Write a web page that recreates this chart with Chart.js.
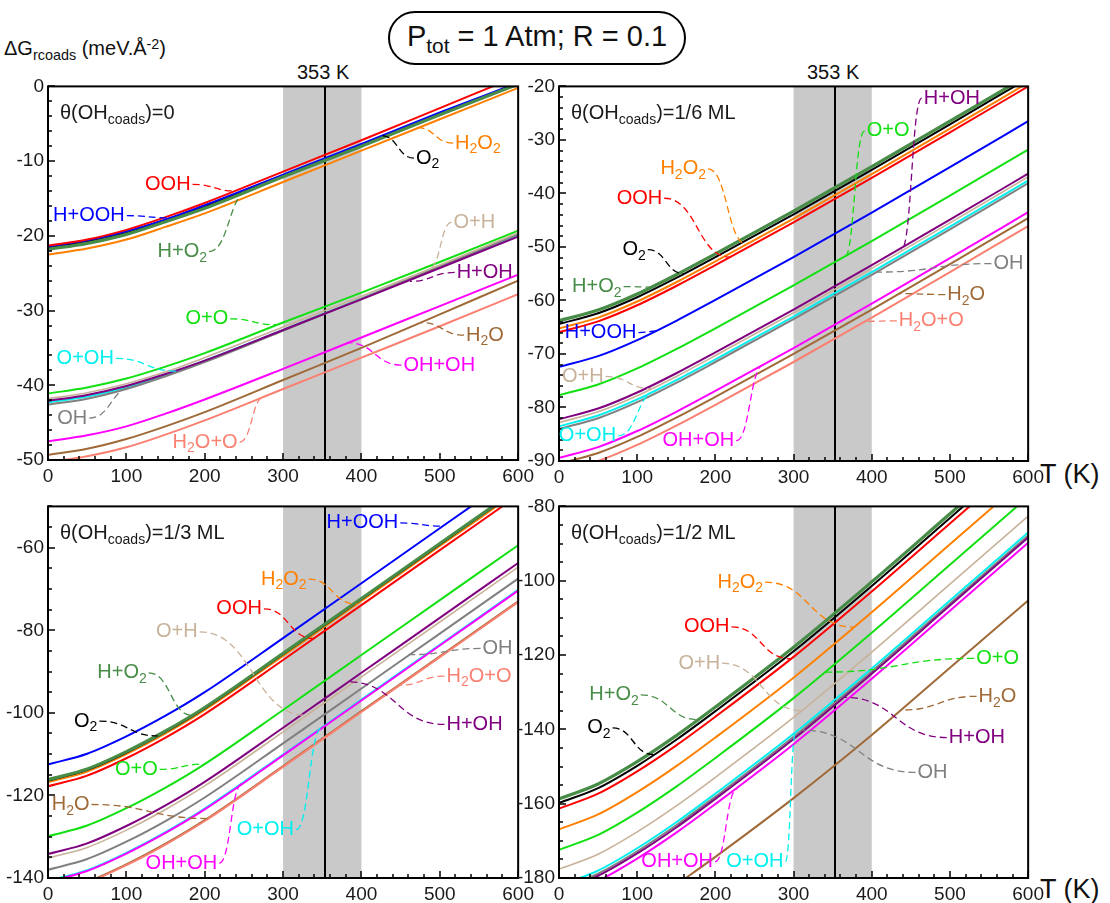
<!DOCTYPE html>
<html>
<head>
<meta charset="utf-8">
<script src="https://cdn.jsdelivr.net/npm/chart.js@4.4.0/dist/chart.umd.min.js"></script>
<style>
  body { margin: 0; background: #fff; width: 1110px; height: 903px; position: relative; overflow: hidden;
         font-family: "Liberation Sans", Arial, sans-serif; color: #111; }
  canvas { position: absolute; }
  .txt { position: absolute; white-space: nowrap; line-height: 1; }
  .sub { font-size: 0.72em; position: relative; top: 0.35em; }
  .sup { font-size: 0.72em; position: relative; top: -0.45em; }
  #title { left: 388px; top: 11px; width: 294px; height: 50px; border: 2px solid #000; border-radius: 27px;
           font-size: 29px; text-align: center; line-height: 46px; }
</style>
</head>
<body>
<div class="txt" id="title">P<span class="sub">tot</span> = 1 Atm; R = 0.1</div>
<div class="txt" style="left:4px; top:38px; font-size:20px;">&Delta;G<span class="sub">rcoads</span> (meV.&Aring;<span class="sup">-2</span>)</div>
<div class="txt" style="left:297px; top:62px; font-size:20px;">353 K</div>
<div class="txt" style="left:807px; top:62px; font-size:20px;">353 K</div>
<div class="txt" style="left:1040px; top:461px; font-size:27px;">T (K)</div>
<div class="txt" style="left:1040px; top:876px; font-size:27px;">T (K)</div>

<script>
const FONT = '"Liberation Sans", Arial, sans-serif';

const temps = [0, 50, 100, 150, 200, 300, 400, 500, 600];

const species = ['OOH', 'H+OOH', 'O2', 'H+O2', 'H2O2', 'O+O', 'H+OH', 'O+H', 'O+OH', 'OH', 'OH+OH', 'H2O', 'H2O+O'];

// ΔG_rcoads (meV/Å²) vs T, one row per species in the order above
const gTheta0 = [
  [-21.3, -20.5, -19.2, -17.5, -15.6, -11.4, -7.2, -2.9, 1.4],
  [-21.4, -20.6, -19.4, -17.8, -15.9, -11.8, -7.7, -3.5, 0.5],
  [-21.6, -20.8, -19.6, -18.0, -16.1, -12.0, -7.8, -3.6, 0.4],
  [-21.8, -21.0, -19.8, -18.1, -16.3, -12.1, -8.0, -3.8, 0.3],
  [-22.5, -21.7, -20.5, -18.8, -17.0, -12.8, -8.6, -4.4, -0.2],
  [-41.1, -40.3, -39.1, -37.5, -35.7, -31.6, -27.6, -23.5, -19.3],
  [-42.1, -41.3, -40.1, -38.5, -36.7, -32.6, -28.5, -24.3, -20.1],
  [-41.8, -41.0, -39.8, -38.2, -36.3, -32.2, -28.1, -23.9, -19.6],
  [-42.3, -41.5, -40.3, -38.6, -36.7, -32.6, -28.4, -24.2, -19.9],
  [-42.6, -41.8, -40.5, -38.8, -36.9, -32.7, -28.4, -24.1, -19.8],
  [-47.5, -46.7, -45.5, -43.8, -41.9, -37.8, -33.6, -29.4, -25.2],
  [-49.3, -48.5, -47.2, -45.5, -43.6, -39.3, -35.0, -30.5, -26.0],
  [-50.3, -49.5, -48.3, -46.6, -44.7, -40.5, -36.3, -32.1, -27.8]
];
const gTheta16 = [
  [-65.9, -63.9, -60.9, -57.3, -53.4, -45.4, -37.1, -28.6, -20.0],
  [-72.4, -70.4, -67.4, -63.8, -59.9, -51.9, -43.6, -35.1, -26.5],
  [-64.4, -62.4, -59.4, -55.8, -51.9, -43.9, -35.6, -27.1, -18.5],
  [-63.8, -61.8, -58.8, -55.2, -51.3, -43.3, -35.0, -26.5, -17.9],
  [-65.2, -63.2, -60.2, -56.6, -52.7, -44.7, -36.4, -27.9, -19.3],
  [-77.7, -75.7, -72.7, -69.1, -65.2, -57.2, -48.9, -40.4, -31.8],
  [-82.2, -80.2, -77.2, -73.6, -69.7, -61.7, -53.4, -44.9, -36.3],
  [-82.8, -80.8, -77.8, -74.2, -70.3, -62.3, -54.0, -45.5, -36.9],
  [-83.5, -81.5, -78.5, -74.9, -71.0, -63.0, -54.7, -46.2, -37.6],
  [-84.0, -82.0, -79.0, -75.4, -71.5, -63.5, -55.2, -46.7, -38.1],
  [-89.4, -87.4, -84.4, -80.8, -76.9, -68.9, -60.6, -52.1, -43.5],
  [-90.5, -88.5, -85.5, -81.9, -78.0, -70.0, -61.7, -53.2, -44.6],
  [-92.0, -90.0, -87.0, -83.4, -79.5, -71.5, -63.2, -54.7, -46.1]
];
const gTheta13 = [
  [-117.8, -115.2, -111.0, -106.0, -100.3, -87.2, -73.9, -60.6, -47.3],
  [-112.5, -109.9, -105.7, -100.7, -95.0, -81.9, -68.6, -55.3, -42.0],
  [-116.4, -113.8, -109.6, -104.6, -98.9, -85.8, -72.5, -59.2, -45.9],
  [-116.2, -113.6, -109.4, -104.4, -98.7, -85.6, -72.3, -59.0, -45.7],
  [-116.8, -114.2, -110.0, -105.0, -99.3, -86.2, -72.9, -59.6, -46.3],
  [-129.9, -127.3, -123.1, -118.1, -112.4, -99.3, -86.0, -72.7, -59.4],
  [-134.2, -131.6, -127.4, -122.4, -116.7, -103.6, -90.3, -77.0, -63.7],
  [-135.2, -132.6, -128.4, -123.4, -117.7, -104.6, -91.3, -78.0, -64.7],
  [-140.7, -138.1, -133.9, -128.9, -123.2, -110.1, -96.8, -83.5, -70.2],
  [-138.0, -135.4, -131.2, -126.2, -120.5, -107.4, -94.1, -80.8, -67.5],
  [-140.9, -138.3, -134.1, -129.1, -123.4, -110.3, -97.0, -83.7, -70.4],
  [-143.5, -140.9, -136.7, -131.7, -126.0, -112.9, -99.6, -86.3, -73.0],
  [-143.7, -141.1, -136.9, -131.9, -126.2, -113.1, -99.8, -86.5, -73.2]
];
const gTheta12 = [
  [-161.3, -157.3, -151.3, -144.3, -136.6, -120.5, -102.9, -84.6, -66.3],
  null,
  [-159.8, -155.8, -149.8, -142.8, -135.1, -119.0, -101.4, -83.1, -64.8],
  [-158.7, -154.7, -148.7, -141.7, -134.0, -117.9, -100.3, -82.0, -63.7],
  [-166.9, -162.9, -156.9, -149.9, -142.2, -126.1, -108.5, -90.2, -71.9],
  [-172.4, -168.4, -162.4, -155.4, -147.7, -131.6, -114.0, -95.7, -77.4],
  [-183.4, -179.4, -173.4, -166.4, -158.7, -142.6, -125.0, -106.7, -88.4],
  [-177.6, -173.6, -167.6, -160.6, -152.9, -136.8, -119.2, -100.9, -82.6],
  [-182.0, -178.0, -172.0, -165.0, -157.3, -141.2, -123.6, -105.3, -87.0],
  [-182.8, -178.8, -172.8, -165.8, -158.1, -142.0, -124.4, -106.1, -87.8],
  [-184.8, -180.8, -174.8, -167.8, -160.1, -144.0, -126.4, -108.1, -89.8],
  [-199.5, -196.3, -189.3, -181.8, -174.3, -158.5, -141.5, -123.4, -105.3],
  null
];

const panelTitles = ['θ(OH_{coads})=0', 'θ(OH_{coads})=1/6 ML', 'θ(OH_{coads})=1/3 ML', 'θ(OH_{coads})=1/2 ML'];
const yMin = [-50, -90, -140, -180];
const yMax = [0, -20, -50, -80];
const yMajor = [10, 10, 20, 20];
const yMinor = [2, 2, 5, 5];
const band = [300, 400];
const markT = 353;

// label callouts: [species, label T, label ΔG, side of text, target T, target ΔG]
const notes0 = [
  ['OOH', 182, -13.1, 'r', 239, -14.0], ['H+OOH', 98, -17.3, 'r', 157, -17.6],
  ['O2', 467, -9.6, 'l', 426, -6.6], ['H2O2', 517, -7.6, 'l', 471, -5.5],
  ['H+O2', 203, -22.1, 'r', 257, -13.9], ['O+H', 515, -18.2, 'l', 487, -24.3],
  ['H+OH', 519, -24.9, 'l', 462, -26.1], ['O+O', 230, -31.1, 'r', 292, -31.9],
  ['O+OH', 84, -36.4, 'r', 164, -38.1], ['OH', 50, -44.4, 'r', 109, -40.2],
  ['OH+OH', 451, -37.3, 'l', 383, -34.3], ['H2O', 531, -33.3, 'l', 476, -31.6],
  ['H2O+O', 242, -47.6, 'r', 276, -41.5]
];
const notes1 = [
  ['H+OH', 464, -22.2, 'l', 438, -50.5], ['O+O', 391, -28.3, 'l', 365, -52.1],
  ['H2O2', 188, -35.4, 'r', 240, -49.5], ['OOH', 132, -40.9, 'r', 219, -51.9],
  ['O2', 111, -50.5, 'r', 160, -55.0], ['H+O2', 80, -57.4, 'r', 118, -57.5],
  ['H+OOH', 99, -66.0, 'r', 127, -65.7], ['OH', 553, -53.1, 'l', 406, -54.7],
  ['H2O', 494, -58.9, 'l', 435, -58.7], ['H2O+O', 432, -63.8, 'l', 392, -63.9],
  ['O+H', 57, -74.2, 'r', 118, -76.5], ['O+OH', 73, -85.3, 'r', 125, -76.9],
  ['OH+OH', 224, -86.2, 'r', 262, -72.0]
];
const notes2 = [
  ['H+OOH', 447, -54.0, 'r', 504, -54.8], ['H2O2', 330, -67.6, 'r', 394, -73.7],
  ['OOH', 273, -74.8, 'r', 339, -82.0], ['O+H', 191, -80.4, 'r', 330, -100.6],
  ['H+O2', 126, -90.3, 'r', 184, -100.6], ['O2', 63, -102.0, 'r', 140, -105.6],
  ['O+O', 140, -113.7, 'r', 200, -112.4], ['H2O', 53, -122.2, 'r', 204, -125.6],
  ['OH', 552, -84.4, 'l', 463, -85.9], ['H2O+O', 506, -91.1, 'l', 449, -93.3],
  ['H+OH', 506, -102.8, 'l', 383, -92.5], ['O+OH', 314, -128.3, 'r', 350, -103.5],
  ['OH+OH', 216, -136.4, 'r', 248, -117.1]
];
const notes3 = [
  ['H2O2', 261, -100.4, 'r', 377, -112.5], ['OOH', 218, -112.4, 'r', 296, -121.0],
  ['O+H', 206, -122.2, 'r', 311, -135.0], ['O+O', 531, -120.9, 'l', 339, -124.6],
  ['H+O2', 102, -130.7, 'r', 178, -137.4], ['O2', 66, -139.6, 'r', 121, -146.8],
  ['H2O', 534, -131.1, 'l', 439, -134.8], ['H+OH', 496, -142.2, 'l', 365, -131.4],
  ['OH', 456, -151.6, 'l', 311, -140.2], ['OH+OH', 197, -175.6, 'r', 228, -156.0],
  ['O+OH', 287, -175.6, 'r', 303, -140.7]
];

// styles
const colors = {
  'OOH': '#ff0000', 'H+OOH': '#0000ff', 'O2': '#000000', 'H+O2': '#478c47', 'H2O2': '#ff8000',
  'O+O': '#12e012', 'H+OH': '#800080', 'O+H': '#c8b29a', 'O+OH': '#00f0f0', 'OH': '#808080',
  'OH+OH': '#ff00ff', 'H2O': '#a06a38', 'H2O+O': '#fa8072'
};
const labelText = {
  'OOH': 'OOH', 'H+OOH': 'H+OOH', 'O2': 'O_2', 'H+O2': 'H+O_2', 'H2O2': 'H_2O_2', 'O+O': 'O+O',
  'H+OH': 'H+OH', 'O+H': 'O+H', 'O+OH': 'O+OH', 'OH': 'OH', 'OH+OH': 'OH+OH', 'H2O': 'H_2O', 'H2O+O': 'H_2O+O'
};
const widths = { 'H+O2': 3.2, 'O+H': 1.6 };
const zOrder = {
  'H+O2': 0, 'OOH': 1, 'H+OOH': 2, 'O2': 3, 'H2O2': 4, 'O+O': 5, 'H+OH': 6, 'O+H': 7,
  'OH+OH': 8, 'OH': 9, 'O+OH': 10, 'H2O+O': 11, 'H2O': 12
};

const boxes = [
  { l: 48, t: 83, r: 519, b: 460 },
  { l: 559, t: 83, r: 1029, b: 461 },
  { l: 48, t: 503, r: 519, b: 878 },
  { l: 559, t: 503, r: 1029, b: 878 }
];
const tables = [gTheta0, gTheta16, gTheta13, gTheta12];
const notes = [notes0, notes1, notes2, notes3];

function parseRich(s) {
  const parts = [];
  let i = 0;
  while (i < s.length) {
    const c = s[i];
    if (c === '_' || c === '^') {
      let t;
      if (s[i + 1] === '{') { const j = s.indexOf('}', i); t = s.slice(i + 2, j); i = j + 1; }
      else { t = s[i + 1]; i += 2; }
      parts.push({ t: t, k: c });
    } else {
      let j = i;
      while (j < s.length && s[j] !== '_' && s[j] !== '^') j++;
      parts.push({ t: s.slice(i, j), k: '' });
      i = j;
    }
  }
  return parts;
}

function drawRich(ctx, s, x, y, size, align, color) {
  const parts = parseRich(s);
  const small = Math.round(size * 0.72);
  let w = 0;
  parts.forEach(p => { ctx.font = (p.k ? small : size) + 'px ' + FONT; w += ctx.measureText(p.t).width; });
  let cx = align === 'right' ? x - w : x;
  ctx.textAlign = 'left';
  ctx.textBaseline = 'middle';
  ctx.fillStyle = color;
  parts.forEach(p => {
    ctx.font = (p.k ? small : size) + 'px ' + FONT;
    const dy = p.k === '_' ? size * 0.32 : (p.k === '^' ? -size * 0.35 : 0);
    ctx.fillText(p.t, cx, y + dy);
    cx += ctx.measureText(p.t).width;
  });
  return w;
}

const deco = {
  id: 'deco',
  beforeDatasetsDraw(chart) {
    const { ctx, chartArea: a, scales: { x } } = chart;
    ctx.save();
    const b0 = x.getPixelForValue(band[0]), b1 = x.getPixelForValue(band[1]);
    ctx.fillStyle = '#c9c9c9';
    ctx.fillRect(b0, a.top, b1 - b0, a.bottom - a.top);
    const m = Math.round(x.getPixelForValue(markT));
    ctx.strokeStyle = '#000';
    ctx.lineWidth = 2;
    ctx.beginPath(); ctx.moveTo(m, a.top); ctx.lineTo(m, a.bottom); ctx.stroke();
    ctx.restore();
  },
  afterDatasetsDraw(chart, args, opts) {
    const { ctx, chartArea: a, scales: { x, y } } = chart;
    ctx.save();
    ctx.strokeStyle = '#000';
    ctx.lineWidth = 1.5;
    ctx.beginPath();
    for (let v = x.min; v <= x.max; v += 20) {
      const px = Math.round(x.getPixelForValue(v));
      ctx.moveTo(px, a.bottom); ctx.lineTo(px, a.bottom - (v % 100 === 0 ? 7 : 4));
    }
    for (let v = y.min; v <= y.max + 1e-6; v += opts.minor) {
      const py = Math.round(y.getPixelForValue(v));
      ctx.moveTo(a.left, py); ctx.lineTo(a.left + (Math.abs(v % opts.major) < 1e-6 ? 7 : 4), py);
    }
    ctx.stroke();
    ctx.lineWidth = 2;
    ctx.strokeRect(a.left, a.top, a.right - a.left, a.bottom - a.top);

    drawRich(ctx, opts.title, a.left + 12, a.top + 27, 20, 'left', '#1a1a1a');

    opts.notes.forEach(n => {
      const [name, lt, lg, side, tt, tg] = n;
      const col = colors[name];
      const lx = x.getPixelForValue(lt), ly = y.getPixelForValue(lg);
      const tx = x.getPixelForValue(tt), ty = y.getPixelForValue(tg);
      drawRich(ctx, labelText[name], side === 'r' ? lx : lx + 2, ly, 20, side === 'r' ? 'right' : 'left', col);
      const sx = side === 'r' ? lx + 2 : lx;
      const mx = (sx + tx) / 2;
      ctx.strokeStyle = col;
      ctx.lineWidth = 1.3;
      ctx.setLineDash([7, 4]);
      ctx.beginPath();
      ctx.moveTo(sx, ly);
      ctx.bezierCurveTo(mx, ly, mx, ty, tx, ty);
      ctx.stroke();
      ctx.setLineDash([]);
    });
    ctx.restore();
  }
};

tables.forEach((tab, p) => {
  const bx = boxes[p];
  const cv = document.createElement('canvas');
  const w = (bx.r - bx.l) + 48 + 20;
  const h = (bx.b - bx.t) + 12 + 30;
  cv.width = w; cv.height = h;
  cv.style.left = (bx.l - 48) + 'px';
  cv.style.top = (bx.t - 12) + 'px';
  cv.style.width = w + 'px';
  cv.style.height = h + 'px';
  document.body.appendChild(cv);

  const datasets = [];
  species.forEach((name, i) => {
    if (!tab[i]) return;
    datasets.push({
      label: name,
      data: temps.map((t, j) => ({ x: t, y: tab[i][j] })),
      borderColor: colors[name],
      borderWidth: widths[name] || 2,
      order: zOrder[name],
      pointRadius: 0,
      fill: false,
      cubicInterpolationMode: 'monotone'
    });
  });

  new Chart(cv, {
    type: 'line',
    data: { datasets: datasets },
    options: {
      responsive: false,
      animation: false,
      layout: { padding: { left: 2, top: 12, right: 20, bottom: 2 } },
      plugins: {
        legend: { display: false },
        tooltip: { enabled: false },
        deco: { title: panelTitles[p], notes: notes[p], major: yMajor[p], minor: yMinor[p] }
      },
      scales: {
        x: {
          type: 'linear', min: 0, max: 600,
          grid: { display: false, drawTicks: false },
          border: { display: false },
          ticks: { stepSize: 100, padding: 5, color: '#1a1a1a', font: { family: FONT, size: 19 }, maxRotation: 0 },
          afterFit: s => { s.height = 28; }
        },
        y: {
          type: 'linear', min: yMin[p], max: yMax[p],
          grid: { display: false, drawTicks: false },
          border: { display: false },
          ticks: { stepSize: yMajor[p], padding: 4, color: '#1a1a1a', font: { family: FONT, size: 19 } },
          afterBuildTicks: s => { s.ticks = s.ticks.filter(t => Math.abs(t.value % yMajor[p]) < 1e-6); },
          afterFit: s => { s.width = 46; }
        }
      }
    },
    plugins: [deco]
  });
});
</script>
</body>
</html>
